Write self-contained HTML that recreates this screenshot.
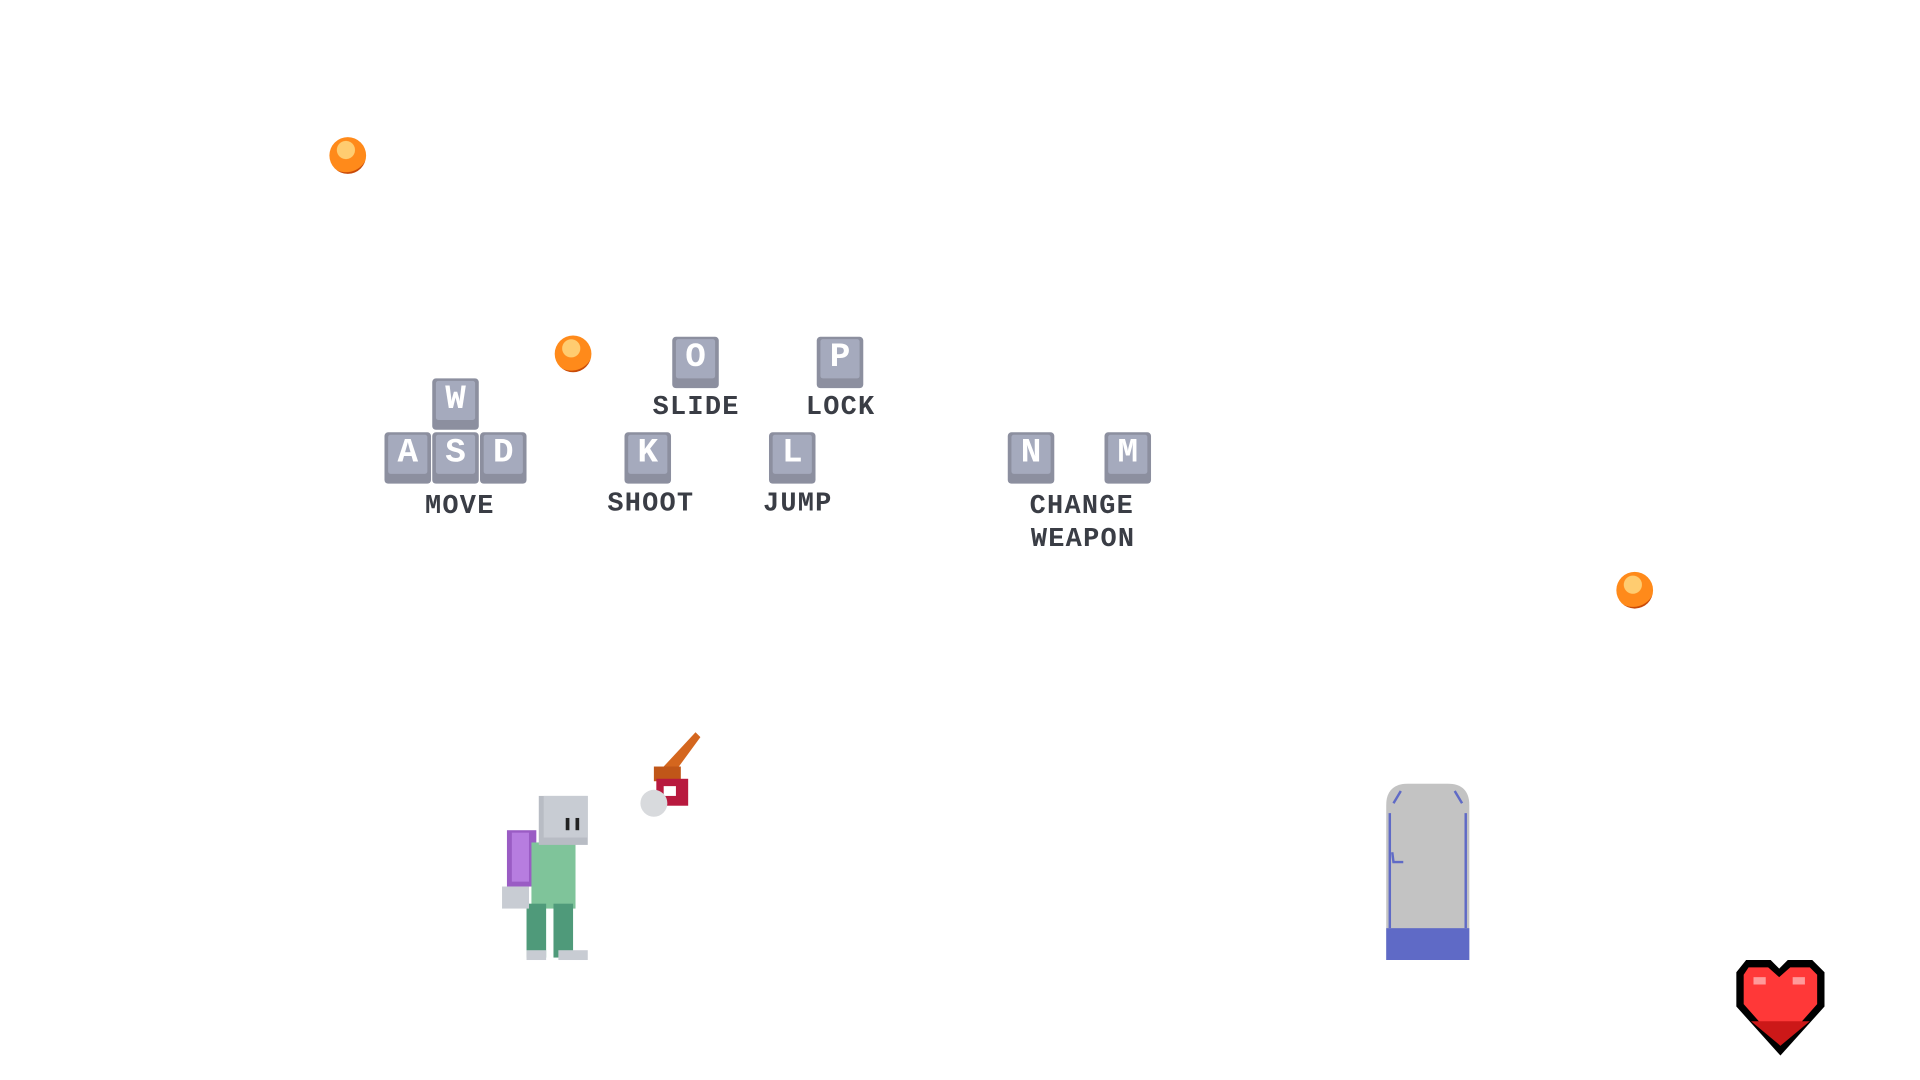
<!DOCTYPE html>
<html><head><style>
html,body{margin:0;padding:0;background:#fff;width:1920px;height:1080px;overflow:hidden}
#w{position:absolute;left:0;top:0;width:1560px;height:878px;transform:scale(1.2245);transform-origin:0 0}
.a{position:absolute}
.coin{position:absolute;width:30px;height:30px;border-radius:50%;background:radial-gradient(circle at 45% 35%,#ffcc70 0 28%,#ff8a1a 30% 70%,#c84a08 72%)}
.key{position:absolute;width:38px;height:42px;background:#8c8f9f;border-radius:3px}
.key i{position:absolute;left:3px;top:2px;right:3px;bottom:8px;background:#a5aabd;border-radius:2px;font-style:normal;color:#fff;font:bold 28px/32px "Liberation Mono",monospace;text-align:center}
.lb{position:absolute;font:bold 22px/22px "Liberation Mono",monospace;color:#3a3d45;text-align:center;transform:translateX(-50%);white-space:nowrap;letter-spacing:1px;text-indent:1px}
</style></head><body><div id="w">
<div class="coin" style="left:269px;top:112px"></div>
<div class="coin" style="left:453px;top:274px"></div>
<div class="coin" style="left:1320px;top:467px"></div>

<div class="key" style="left:353px;top:309px"><i>W</i></div>
<div class="key" style="left:314px;top:353px"><i>A</i></div>
<div class="key" style="left:353px;top:353px"><i>S</i></div>
<div class="key" style="left:392px;top:353px"><i>D</i></div>
<div class="key" style="left:510px;top:353px"><i>K</i></div>
<div class="key" style="left:628px;top:353px"><i>L</i></div>
<div class="key" style="left:549px;top:275px"><i>O</i></div>
<div class="key" style="left:667px;top:275px"><i>P</i></div>
<div class="key" style="left:823px;top:353px"><i>N</i></div>
<div class="key" style="left:902px;top:353px"><i>M</i></div>

<div class="lb" style="left:375px;top:403px">MOVE</div>
<div class="lb" style="left:531px;top:401px">SHOOT</div>
<div class="lb" style="left:651px;top:401px">JUMP</div>
<div class="lb" style="left:568px;top:322px">SLIDE</div>
<div class="lb" style="left:686px;top:322px">LOCK</div>
<div class="lb" style="left:883px;top:403px">CHANGE</div>
<div class="lb" style="left:884px;top:430px">WEAPON</div>

<svg class="a" style="left:408px;top:648px" width="76" height="138" viewBox="0 0 76 138">
<rect x="6" y="30" width="24" height="46" fill="#9a5cc4"/>
<rect x="10" y="32" width="14" height="40" fill="#b77de0"/>
<rect x="26" y="40" width="36" height="54" fill="#7fc49a"/>
<rect x="22" y="90" width="16" height="44" fill="#4f9a7a"/>
<rect x="44" y="90" width="16" height="44" fill="#4f9a7a"/>
<rect x="32" y="2" width="40" height="40" fill="#b8bcc4"/>
<rect x="36" y="2" width="36" height="34" fill="#c8ccd3"/>
<rect x="54" y="20" width="3" height="10" fill="#222"/>
<rect x="62" y="20" width="3" height="10" fill="#222"/>
<rect x="2" y="76" width="22" height="18" fill="#c8ccd3"/>
<rect x="22" y="128" width="16" height="8" fill="#c8ccd3"/>
<rect x="48" y="128" width="24" height="8" fill="#c8ccd3"/>
</svg>
<svg class="a" style="left:520px;top:596px" width="56" height="80" viewBox="0 0 56 80">
<polygon points="48,2 52,6 30,36 22,30" fill="#d4661e"/>
<rect x="14" y="30" width="22" height="12" fill="#c05618"/>
<rect x="16" y="40" width="26" height="22" fill="#b8193e"/>
<rect x="22" y="46" width="10" height="8" fill="#fff"/>
<circle cx="14" cy="60" r="11" fill="#d8dadd"/>
</svg>
<svg class="a" style="left:1132px;top:640px" width="68" height="144" viewBox="0 0 68 144">
<path d="M0,18 Q0,0 18,0 H50 Q68,0 68,18 V144 H0Z" fill="#c3c3c3"/>
<path d="M3,24 V118 M65,24 V118 M6,16 L12,6 M62,16 L56,6" stroke="#5f6ac6" stroke-width="2" fill="none"/>
<path d="M5,56 L6,64 L14,64" stroke="#5f6ac6" stroke-width="2" fill="none"/>
<rect x="0" y="118" width="68" height="26" fill="#5f6ac6"/>
</svg>
<svg class="a" style="left:1416px;top:784px" width="76" height="78" viewBox="0 0 76 78">
<path d="M10,0 H30 L37,7 L44,0 H64 L74,10 V38 L38,78 L2,38 V10Z" fill="#000"/>
<path d="M12,6 H28 L37,14 L46,6 H62 L68,12 V36 L38,70 L8,36 V12Z" fill="#ff3838"/>
<path d="M14,50 H62 L38,70Z" fill="#cc1818"/>
<rect x="16" y="14" width="10" height="6" fill="#ff9a9a"/>
<rect x="48" y="14" width="10" height="6" fill="#ff9a9a"/>
</svg>
</div></body></html>
